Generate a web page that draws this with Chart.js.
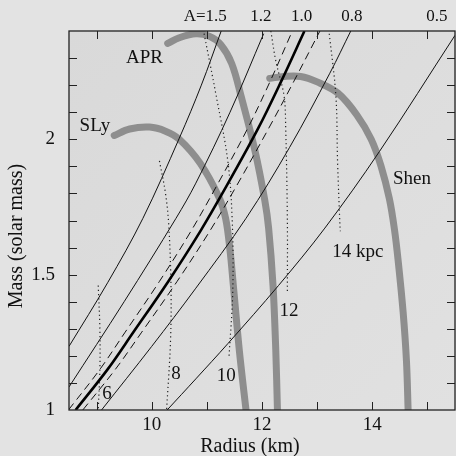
<!DOCTYPE html>
<html>
<head>
<meta charset="utf-8">
<script src="https://cdn.jsdelivr.net/npm/chart.js@4.4.1/dist/chart.umd.min.js"></script>
<style>
html, body { margin: 0; padding: 0; background: #e3e3e3; }
canvas { display: block; }
</style>
</head>
<body>
<canvas id="mr" width="456" height="456"></canvas>
<script>
// lines of constant A  (radius in km, mass in solar masses)
var a15R = [8.50, 9.20, 9.84, 10.50, 10.90, 11.26];
var a15M = [1.235, 1.47, 1.708, 2.004, 2.20, 2.40];
var a12R = [8.50, 9.50, 10.44, 10.80, 11.42, 12.03];
var a12M = [1.085, 1.40, 1.708, 1.838, 2.10, 2.39];
var a10R = [8.62, 9.20, 9.66, 10.30, 10.88, 11.35, 11.93, 12.35, 12.77];
var a10M = [1.00, 1.15, 1.285, 1.475, 1.66, 1.825, 2.04, 2.215, 2.40];
var a10loR = [8.49, 9.06, 9.51, 10.14, 10.71, 11.17, 11.74, 12.15, 12.55];
var a10hiR = [8.75, 9.34, 9.81, 10.46, 11.05, 11.53, 12.12, 12.58, 13.05];
var a08R = [9.09, 10.00, 10.80, 11.71, 12.50, 13.23, 13.61];
var a08M = [1.00, 1.235, 1.45, 1.708, 1.97, 2.244, 2.40];
var a05R = [10.28, 10.80, 11.38, 12.30, 13.14, 14.13, 15.50];
var a05M = [1.00, 1.115, 1.245, 1.46, 1.672, 1.955, 2.384];

// distance curves (kpc)
var d6R = [9.03, 9.06, 9.06, 9.03];
var d6M = [1.46, 1.30, 1.15, 1.00];
var d8R = [10.14, 10.25, 10.31, 10.35, 10.34, 10.27];
var d8M = [1.92, 1.80, 1.68, 1.45, 1.25, 1.00];
var d10R = [10.95, 11.17, 11.38, 11.46, 11.47, 11.40];
var d10M = [2.39, 2.16, 1.92, 1.70, 1.44, 1.19];
var d12R = [12.16, 12.25, 12.40, 12.43, 12.46, 12.46];
var d12M = [2.40, 2.29, 2.16, 2.04, 1.70, 1.43];
var d14R = [13.22, 13.34, 13.37, 13.41, 13.42];
var d14M = [2.39, 2.16, 1.92, 1.70, 1.66];

// equations of state
var slyR = [9.32, 9.60, 9.96, 10.25, 10.50, 10.88, 11.22, 11.34, 11.42, 11.48, 11.59, 11.71];
var slyM = [2.014, 2.038, 2.045, 2.03, 2.00, 1.911, 1.786, 1.708, 1.59, 1.461, 1.218, 1.00];
var aprR = [10.29, 10.50, 10.80, 11.05, 11.25, 11.45, 11.62, 11.87, 12.05, 12.12, 12.20, 12.25, 12.28];
var aprM = [2.354, 2.375, 2.39, 2.38, 2.35, 2.28, 2.16, 1.96, 1.775, 1.672, 1.46, 1.22, 1.00];
var shenR = [12.14, 12.40, 12.70, 13.00, 13.38, 13.72, 13.98, 14.16, 14.31, 14.40, 14.47, 14.56, 14.62, 14.65];
var shenM = [2.225, 2.232, 2.232, 2.212, 2.17, 2.09, 2.00, 1.90, 1.78, 1.67, 1.55, 1.36, 1.18, 1.00];

// axes
var xLabelVals = [10, 12, 14];
var yLabelVals = [1, 1.5, 2];
var xTickVals = [9, 10, 11, 12, 13, 14, 15];
var yTickVals = [1.1, 1.2, 1.3, 1.4, 1.5, 1.6, 1.7, 1.8, 1.9, 2.0, 2.1, 2.2, 2.3];
var xTitle = 'Radius (km)';
var yTitle = 'Mass (solar mass)';

// text in the plot
var noteText = ['APR', 'SLy', 'Shen', '14 kpc', '12', '10', '8', '6'];
var noteR = [9.87, 8.97, 14.72, 13.74, 12.49, 11.35, 10.44, 9.19];
var noteM = [2.301, 2.048, 1.852, 1.583, 1.364, 1.125, 1.133, 1.059];
var topText = ['A=1.5', '1.2', '1.0', '0.8', '0.5'];
var topR = [10.97, 11.98, 12.72, 13.63, 15.17];

var serif = '"Liberation Serif", "Times New Roman", serif';

function pts(rs, ms) {
    return rs.map(function (r, i) { return {x: r, y: ms[i]}; });
}

function thin(rs, ms) {
    return {data: pts(rs, ms), borderColor: '#111', borderWidth: 1, order: 2};
}

function dotted(rs, ms) {
    return {data: pts(rs, ms), borderColor: '#222', borderWidth: 1.2, borderDash: [1.2, 3], order: 3};
}

function eos(rs, ms) {
    return {data: pts(rs, ms), borderColor: '#8e8e8e', borderWidth: 7, borderCapStyle: 'round', order: 9};
}

var datasets = [
    thin(a15R, a15M),
    thin(a12R, a12M),
    {data: pts(a10R, a10M), borderColor: '#000', borderWidth: 2.6, order: 1},
    {data: pts(a10loR, a10M), borderColor: '#111', borderWidth: 1, borderDash: [8, 5], order: 2},
    {data: pts(a10hiR, a10M), borderColor: '#111', borderWidth: 1, borderDash: [8, 5], order: 2},
    thin(a08R, a08M),
    thin(a05R, a05M),
    dotted(d6R, d6M),
    dotted(d8R, d8M),
    dotted(d10R, d10M),
    dotted(d12R, d12M),
    dotted(d14R, d14M),
    eos(slyR, slyM),
    eos(aprR, aprM),
    eos(shenR, shenM)
];
datasets.forEach(function (d) {
    d.pointRadius = 0;
    d.fill = false;
    d.tension = 0.35;
    d.clip = 0;
});

var frameTicks = {
    id: 'frameTicks',
    beforeDraw: function (chart) {
        var c = chart.ctx, a = chart.chartArea;
        c.save();
        c.fillStyle = '#e3e3e3';
        c.fillRect(0, 0, chart.width, chart.height);
        var g = c.createLinearGradient(a.left, a.top, a.right, a.bottom);
        g.addColorStop(0, '#d9d9d9');
        g.addColorStop(1, '#e1e1e1');
        c.fillStyle = g;
        c.fillRect(a.left, a.top, a.right - a.left, a.bottom - a.top);
        c.restore();
    },
    afterDraw: function (chart) {
        var c = chart.ctx, a = chart.chartArea;
        var xs = chart.scales.x, ys = chart.scales.y;
        c.save();
        c.strokeStyle = '#222';
        c.lineWidth = 1.3;
        c.strokeRect(a.left, a.top, a.right - a.left, a.bottom - a.top);
        c.beginPath();
        xTickVals.forEach(function (v) {
            var p = Math.round(xs.getPixelForValue(v)) + 0.5;
            c.moveTo(p, a.bottom); c.lineTo(p, a.bottom - 8);
            c.moveTo(p, a.top); c.lineTo(p, a.top + 8);
        });
        yTickVals.forEach(function (v) {
            var p = Math.round(ys.getPixelForValue(v)) + 0.5;
            c.moveTo(a.left, p); c.lineTo(a.left + 8, p);
            c.moveTo(a.right, p); c.lineTo(a.right - 8, p);
        });
        c.lineWidth = 1;
        c.stroke();

        c.fillStyle = '#111';
        c.textAlign = 'center';
        c.textBaseline = 'middle';
        c.font = '19px ' + serif;
        noteText.forEach(function (t, i) {
            c.fillText(t, xs.getPixelForValue(noteR[i]), ys.getPixelForValue(noteM[i]));
        });
        c.font = '17px ' + serif;
        topText.forEach(function (t, i) {
            c.fillText(t, xs.getPixelForValue(topR[i]), a.top - 14);
        });

        // axis titles
        c.font = '20px ' + serif;
        c.fillText(xTitle, a.left + 181, a.bottom + 37);
        c.translate(17, a.top + 205);
        c.rotate(-Math.PI / 2);
        c.fillText(yTitle, 0, 0);
        c.restore();
    }
};

var ctx = document.getElementById('mr').getContext('2d');
var chart = new Chart(ctx, {
    type: 'line',
    data: {datasets: datasets},
    options: {
        responsive: false,
        animation: false,
        devicePixelRatio: 1,
        layout: {padding: {top: 31, right: 1, left: 0, bottom: 0}},
        scales: {
            x: {
                type: 'linear',
                min: 8.5,
                max: 15.5,
                grid: {display: false, drawTicks: false},
                border: {display: false},
                afterBuildTicks: function (s) {
                    s.ticks = xLabelVals.map(function (v) { return {value: v}; });
                },
                afterFit: function (s) { s.height = 46; },
                ticks: {
                    padding: 4,
                    color: '#111',
                    font: {family: serif, size: 19},
                    maxRotation: 0
                }
            },
            y: {
                type: 'linear',
                min: 1,
                max: 2.4,
                grid: {display: false, drawTicks: false},
                border: {display: false},
                afterBuildTicks: function (s) {
                    s.ticks = yLabelVals.map(function (v) { return {value: v}; });
                },
                afterFit: function (s) { s.width = 69; },
                ticks: {
                    padding: 14,
                    color: '#111',
                    font: {family: serif, size: 19},
                    callback: function (v) { return String(+v.toFixed(1)); }
                }
            }
        },
        plugins: {
            legend: {display: false},
            tooltip: {enabled: false}
        }
    },
    plugins: [frameTicks]
});
</script>
</body>
</html>
